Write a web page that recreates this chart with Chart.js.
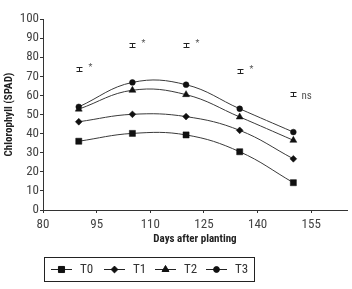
<!DOCTYPE html>
<html><head><meta charset="utf-8">
<script src="https://cdn.jsdelivr.net/npm/chart.js@4/dist/chart.umd.min.js"></script>
<style>html,body{margin:0;padding:0;background:#fff}#wrap{width:352px;height:289px}</style>
</head><body><div id="wrap"><canvas id="c" width="352" height="289"></canvas></div>
<script>
const days = [90, 105, 120, 135, 150];
const seriesNames = ['T0', 'T1', 'T2', 'T3'];
const t0 = [36.0, 40.1, 39.3, 30.5, 14.3];
const t1 = [46.2, 50.1, 48.9, 41.7, 26.8];
const t2 = [52.8, 62.7, 60.4, 48.7, 36.5];
const t3 = [54.0, 66.8, 65.6, 53.0, 40.8];
const sigY = [73.8, 86.4, 86.4, 72.8, 60.7];
const sigErr = [1.2, 1.2, 1.2, 1.2, 1.2];
const sigLabels = ['*', '*', '*', '*', 'ns'];
const xTicks = [80, 95, 110, 125, 140, 155];
const yTicks = [0, 10, 20, 30, 40, 50, 60, 70, 80, 90, 100];

const FONT = '"Liberation Sans Narrow", "Arial Narrow", "Roboto Condensed", "Liberation Sans", sans-serif';
const markers = ['rect', 'rectRot', 'triangle', 'circle'];
const radii = [4.3, 3.4, 4.0, 2.9];
const values = [t0, t1, t2, t3];

const datasets = values.map((vals, i) => ({
  label: seriesNames[i],
  data: days.map((d, j) => ({ x: d, y: vals[j] })),
  borderColor: '#3a3a3a',
  borderWidth: 1,
  backgroundColor: '#111',
  pointBackgroundColor: '#111',
  pointBorderColor: '#111',
  pointBorderWidth: 0.5,
  pointStyle: markers[i],
  pointRadius: radii[i],
  tension: 0.4,
  fill: false
}));

const sigPlugin = {
  id: 'sig',
  afterDatasetsDraw(chart) {
    const ctx = chart.ctx, xs = chart.scales.x, ys = chart.scales.y;
    ctx.save();
    ctx.strokeStyle = '#222';
    ctx.lineWidth = 1;
    days.forEach((d, i) => {
      const px = Math.round(xs.getPixelForValue(d)) + 0.5;
      const top = Math.round(ys.getPixelForValue(sigY[i] + sigErr[i])) + 0.5;
      const bot = Math.round(ys.getPixelForValue(sigY[i] - sigErr[i])) + 0.5;
      ctx.beginPath();
      ctx.moveTo(px, top); ctx.lineTo(px, bot);
      ctx.moveTo(px - 3, top); ctx.lineTo(px + 3, top);
      ctx.moveTo(px - 3, bot); ctx.lineTo(px + 3, bot);
      ctx.stroke();
      ctx.fillStyle = '#555';
      ctx.textBaseline = 'middle';
      ctx.textAlign = 'left';
      if (sigLabels[i] === 'ns') {
        ctx.font = '11px ' + FONT;
        ctx.fillText(sigLabels[i], px + 8, (top + bot) / 2 + 2);
      } else {
        ctx.font = '9px ' + FONT;
        ctx.fillText(sigLabels[i], px + 9, top);
      }
    });
    ctx.restore();
  }
};

const legendPlugin = {
  id: 'boxLegend',
  afterDraw(chart) {
    const ctx = chart.ctx;
    ctx.save();
    ctx.strokeStyle = '#222';
    ctx.lineWidth = 1;
    ctx.strokeRect(44.5, 257.5, 210, 24);
    const cy = 269.5;
    const starts = [51, 104, 155, 206];
    chart.data.datasets.forEach((ds, i) => {
      const x0 = starts[i];
      ctx.strokeStyle = '#222';
      ctx.beginPath();
      ctx.moveTo(x0, cy); ctx.lineTo(x0 + 21, cy);
      ctx.stroke();
      ctx.fillStyle = '#111';
      ctx.strokeStyle = '#111';
      Chart.helpers.drawPoint(ctx, { pointStyle: ds.pointStyle, radius: ds.pointRadius, rotation: 0, borderWidth: 0.5 }, x0 + 10.5, cy);
      ctx.fillStyle = '#333';
      ctx.font = '13px ' + FONT;
      ctx.textAlign = 'left';
      ctx.textBaseline = 'middle';
      ctx.fillText(ds.label, x0 + 29, cy);
    });
    ctx.restore();
  }
};

new Chart(document.getElementById('c'), {
  type: 'line',
  data: { datasets },
  plugins: [sigPlugin, legendPlugin],
  options: {
    responsive: false,
    animation: false,
    devicePixelRatio: 1,
    layout: { padding: { left: 0, top: 19, right: 5, bottom: 43 } },
    plugins: { legend: { display: false }, tooltip: { enabled: false } },
    scales: {
      x: {
        type: 'linear', min: 80, max: 165,
        afterBuildTicks: s => { s.ticks = xTicks.map(v => ({ value: v })); },
        afterFit: s => { s.height = 36; },
        grid: { drawOnChartArea: false, drawTicks: true, tickLength: 3, color: '#333' },
        border: { display: true, color: '#333', width: 1 },
        ticks: { color: '#444', font: { family: FONT, size: 13 }, padding: 4, maxRotation: 0 },
        title: { display: true, text: 'Days after planting', color: '#222', font: { family: FONT, size: 11, weight: 'bold' }, padding: { top: 0, bottom: 0 } }
      },
      y: {
        type: 'linear', min: 0, max: 100,
        afterBuildTicks: s => { s.ticks = yTicks.map(v => ({ value: v })); },
        afterFit: s => { s.width = 43; },
        grid: { drawOnChartArea: false, drawTicks: true, tickLength: 3, color: '#333' },
        border: { display: true, color: '#333', width: 1 },
        ticks: { color: '#444', font: { family: FONT, size: 13 }, padding: 1 },
        title: { display: true, text: 'Chlorophyll (SPAD)', color: '#222', font: { family: FONT, size: 11, weight: 'bold' }, padding: { top: 3, bottom: 0 } }
      }
    }
  }
});
</script></body></html>
